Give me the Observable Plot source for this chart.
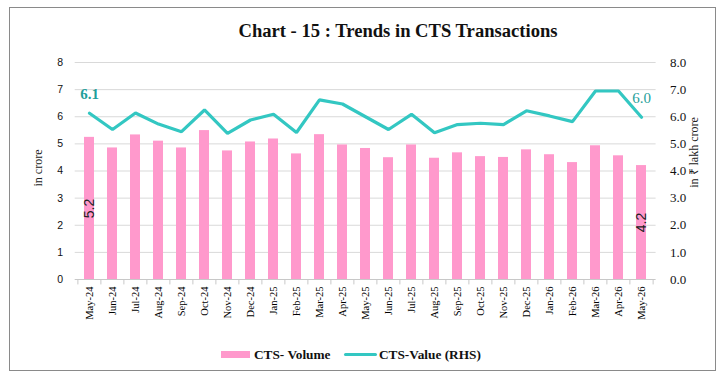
<!DOCTYPE html>
<html><head><meta charset="utf-8">
<script src="https://cdn.jsdelivr.net/npm/d3@7"></script>
<script src="https://cdn.jsdelivr.net/npm/@observablehq/plot@0.6"></script>
<style>
body{margin:0;background:#fff;}
#wrap{position:relative;width:724px;height:380px;overflow:hidden;background:#fff;}
#border{position:absolute;left:9px;top:7px;width:707px;height:364px;border:1px solid #8a8a8a;box-sizing:border-box;}
#title{position:absolute;top:22px;left:398px;transform:translateX(-50%);white-space:nowrap;font:bold 18.6px "Liberation Serif",serif;line-height:18px;color:#111;}
#chart{position:absolute;left:0;top:0;}
.lg{position:absolute;}
.lgt{position:absolute;top:348px;font:bold 13.3px "Liberation Serif",serif;line-height:13px;color:#111;white-space:nowrap;}
</style></head>
<body>
<div id="wrap">
  <div id="border"></div>
  <div id="chart"></div>
  <div id="title">Chart - 15 : Trends in CTS Transactions</div>
  <div class="lg" style="left:221px;top:351px;width:29px;height:7px;background:#ff99cc;"></div>
  <div class="lgt" style="left:254px;">CTS- Volume</div>
  <div class="lg" style="left:344px;top:352.5px;width:33px;height:3.5px;border-radius:2px;background:#33c7c2;"></div>
  <div class="lgt" style="left:379px;">CTS-Value (RHS)</div>
</div>
<script>
const months = ["May-24","Jun-24","Jul-24","Aug-24","Sep-24","Oct-24","Nov-24","Dec-24","Jan-25","Feb-25","Mar-25","Apr-25","May-25","Jun-25","Jul-25","Aug-25","Sep-25","Oct-25","Nov-25","Dec-25","Jan-26","Feb-26","Mar-26","Apr-26","May-26"];
const volume = [5.24,4.85,5.33,5.10,4.85,5.49,4.74,5.07,5.18,4.63,5.34,4.96,4.83,4.49,4.96,4.47,4.67,4.53,4.50,4.78,4.60,4.31,4.93,4.56,4.20];
const value  = [6.13,5.53,6.14,5.73,5.45,6.25,5.39,5.88,6.09,5.42,6.62,6.47,6.00,5.53,6.09,5.41,5.71,5.76,5.71,6.22,6.03,5.82,6.95,6.95,5.98];
const yTicks = [0,1,2,3,4,5,6,7,8];
const leftTitle = "in crore";
const rightTitle = "in ₹ lakh crore";

const data = months.map((m,i)=>({month:m, volume:volume[i], value:value[i]}));
const W=724, H=340, ML=74.7, MR=68.4, MT=62, MB=61;
const step = (W-ML-MR)/months.length;
const serif = "'Liberation Serif', serif";
const sans = "'Liberation Sans', sans-serif";
const fmt = d3.format(".1f");
const first = data[0], last = data[data.length-1];

const chart = Plot.plot({
  width: W, height: H,
  marginLeft: ML, marginRight: MR, marginTop: MT, marginBottom: MB,
  style: {background: "transparent", overflow: "visible"},
  x: {type: "band", domain: months, paddingInner: 0.58, paddingOuter: 0.29},
  y: {domain: [0, 8]},
  marks: [
    Plot.gridY(yTicks.filter(d=>d>0), {stroke: "#d9d9d9", strokeOpacity: 1}),
    Plot.ruleY([0], {stroke: "#c8c8c8"}),
    Plot.ruleX(months, {x: d=>d, y1: 0, y2: -0.2, dx: -step/2, stroke: "#c8c8c8"}),
    Plot.ruleX([months[months.length-1]], {x: d=>d, y1: 0, y2: -0.2, dx: step/2, stroke: "#c8c8c8"}),
    Plot.barY(data, {x: "month", y: "volume", fill: "#ff99cc"}),
    Plot.line(data, {x: "month", y: "value", stroke: "#33c7c2", strokeWidth: 3.2, strokeLinejoin: "miter"}),
    Plot.axisX({tickSize: 0, tickPadding: 7, tickRotate: -90, fontFamily: serif, fontSize: 10.5, label: null, fill: "#000"}),
    Plot.axisY({anchor: "left", ticks: yTicks, tickSize: 0, tickPadding: 12, tickFormat: d=>String(d), fontFamily: sans, fontSize: 10.5, label: null, fill: "#111"}),
    Plot.axisY({anchor: "right", ticks: yTicks, tickSize: 0, tickPadding: 14, tickFormat: fmt, fontFamily: serif, fontSize: 13, label: null, fill: "#111"}),
    Plot.text([leftTitle], {frameAnchor: "left", textAnchor: "middle", dx: -37, dy: -3, rotate: -90, fontFamily: serif, fontSize: 12, fill: "#222"}),
    Plot.text([rightTitle], {frameAnchor: "right", textAnchor: "middle", dx: 38.5, dy: -18.5, rotate: -90, fontFamily: serif, fontSize: 12, fill: "#222"}),
    Plot.text([first], {x: "month", y: "value", text: d=>fmt(d.value), dy: -19, fill: "#1f9f9b", fontWeight: "bold", fontFamily: serif, fontSize: 15}),
    Plot.text([last], {x: "month", y: "value", text: d=>fmt(d.value), dy: -19, fill: "#1f9f9b", fontFamily: serif, fontSize: 15}),
    Plot.text([first, last], {x: "month", y: d=>d.volume/2, text: d=>fmt(d.volume), rotate: -90, fill: "#222", fontFamily: sans, fontSize: 14})
  ]
});
document.getElementById("chart").appendChild(chart);
</script>
</body></html>
